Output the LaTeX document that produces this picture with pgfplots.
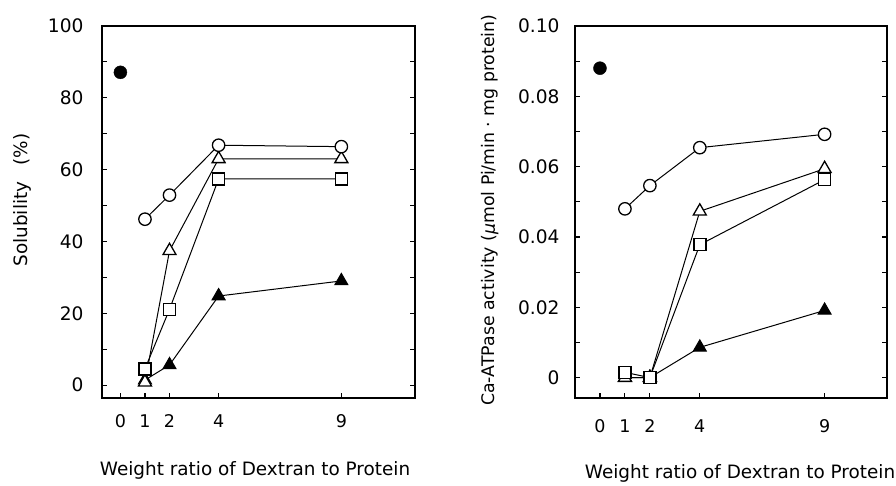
\documentclass[border=0pt]{standalone}
\usepackage{fontspec}
\setmainfont{DejaVu Sans}
\usepackage{pgfplots}
\pgfplotsset{compat=1.18}
\begin{document}
\begin{tikzpicture}[x=1pt,y=1pt]
\useasboundingbox (0,0) rectangle (896,485);
\pgfplotsset{
  common/.style={
    scale only axis, width=313pt, height=372pt,
    axis line style={line width=1.5pt},
    tick align=inside, xtick pos=bottom, ytick pos=both,
    major tick length=5pt, minor tick length=5pt,
    every tick/.style={line width=1.1pt, black},
    xtick={0,1,2,4,9}, xticklabels={0,1,2,4,9},
    /pgf/number format/assume math mode=true,
    label style={font=\fontsize{18.4}{20}\selectfont},
    clip=false,
  },
  ln/.style={black, line width=1pt},
  oc/.style={ln, mark=*, mark size=6.2pt, mark options={fill=white, draw=black, line width=1.3pt}},
  fc/.style={only marks, mark=*, mark size=6.5pt, mark options={fill=black, draw=black}},
  ot/.style={ln, mark=triangle*, mark size=7.5pt, mark options={fill=white, draw=black, line width=1.3pt}},
  ft/.style={ln, mark=triangle*, mark size=7.5pt, mark options={fill=black, draw=black, line width=1pt}},
  sq/.style={ln, mark=square*, mark size=6pt, mark options={fill=white, draw=black, line width=1.4pt}},
}
% Left panel
\begin{axis}[common, at={(102pt,87pt)}, anchor=south west,
  xmin=-0.75, xmax=12, ymin=-3.6, ymax=100,
  x tick label style={font=\fontsize{17.5}{20}\selectfont, yshift=-13pt},
  y tick label style={font=\fontsize{18.6}{22}\selectfont, xshift=-15pt},
  ytick={0,20,40,60,80,100}, yticklabels={0,20,40,60,80,100},
  minor ytick={10,30,50,70,90},
  xlabel={Weight ratio of Dextran to Protein},
  xlabel style={at={(axis description cs:0.489,-0.194)}, anchor=center},
  ylabel={Solubility\hspace{16pt}(\%)},
  ylabel style={at={(axis description cs:-0.253,0.532)}, anchor=center, rotate=0},
]
\addplot[ft] coordinates {(1,1.4) (2,5.6) (4,24.8) (9,29.0)};
\addplot[ot] coordinates {(1,0.8) (2,37.4) (4,63) (9,63)};
\addplot[sq] coordinates {(1,4.5) (2,21.1) (4,57.4) (9,57.4)};
\addplot[oc] coordinates {(1,46.2) (2,52.9) (4,66.8) (9,66.4)};
\addplot[fc] coordinates {(0,87.1)};
\end{axis}
% Right panel
\begin{axis}[common, at={(575pt,87pt)}, anchor=south west, width=312pt,
  xmin=-1, xmax=11.5, ymin=-0.0058, ymax=0.1,
  x tick label style={font=\fontsize{17.5}{20}\selectfont, yshift=-18pt},
  y tick label style={font=\fontsize{18.6}{22}\selectfont, xshift=-12pt},
  ytick={0,0.02,0.04,0.06,0.08,0.1}, yticklabels={0,0.02,0.04,0.06,0.08,0.10},
  minor ytick={0.01,0.03,0.05,0.07,0.09},
  scaled y ticks=false,
  xlabel={Weight ratio of Dextran to Protein},
  xlabel style={at={(axis description cs:0.529,-0.2016)}, anchor=center},
  ylabel={Ca-ATPase activity (\textit{μ}mol Pi/min · mg protein)},
  ylabel style={at={(axis description cs:-0.272,0.505)}, anchor=center, rotate=0, font=\fontsize{17.3}{20}\selectfont},
]
\addplot[ft] coordinates {(1,0.0) (2,0.0) (4,0.0086) (9,0.0191)};
\addplot[ot] coordinates {(1,0.0) (2,0.0) (4,0.0473) (9,0.0594)};
\addplot[sq] coordinates {(1,0.0015) (2,0.0) (4,0.0378) (9,0.0563)};
\addplot[oc] coordinates {(1,0.048) (2,0.0546) (4,0.0654) (9,0.0692)};
\addplot[fc] coordinates {(0,0.088)};
\end{axis}
\end{tikzpicture}
\end{document}
